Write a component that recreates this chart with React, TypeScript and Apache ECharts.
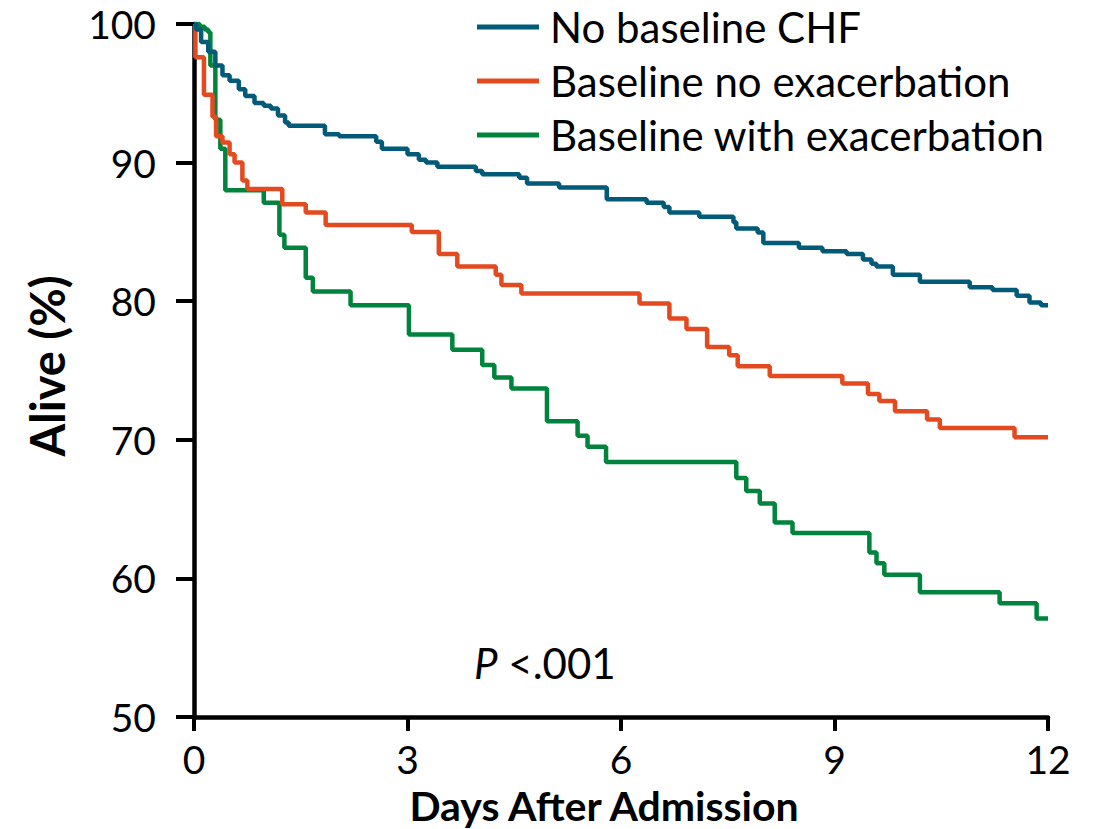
import React, { useEffect, useRef } from "react";
import * as echarts from "echarts";

const seriesNames = ["No baseline CHF", "Baseline no exacerbation", "Baseline with exacerbation"];
const seriesColors = ["#005A78", "#E34A1F", "#00843D"];

const xTicks = [0, 3, 6, 9, 12];
const yTicks = [50, 60, 70, 80, 90, 100];

// [day, % alive] step points (Kaplan-Meier)
const noBaselineChf: [number, number][] = [
  [0, 100], [0.03, 99.6], [0.1, 98.7], [0.2, 98.0], [0.3, 97.0], [0.4, 96.3], [0.5, 95.9],
  [0.63, 95.3], [0.72, 94.8], [0.85, 94.3], [0.98, 94.1], [1.08, 93.9], [1.18, 93.4],
  [1.28, 92.9], [1.33, 92.65], [1.84, 92.05], [2.04, 91.9], [2.56, 91.5], [2.64, 91.0],
  [3.0, 90.6], [3.16, 90.2], [3.26, 90.0], [3.42, 89.7], [3.96, 89.4], [4.05, 89.16],
  [4.57, 88.9], [4.68, 88.5], [5.13, 88.2], [5.8, 87.36], [6.36, 87.1], [6.6, 86.8],
  [6.68, 86.4], [7.1, 86.1], [7.58, 85.7], [7.62, 85.25], [7.92, 84.95], [8.0, 84.2],
  [8.5, 83.86], [8.83, 83.6], [9.17, 83.4], [9.4, 83.0], [9.52, 82.7], [9.59, 82.5],
  [9.82, 81.9], [10.2, 81.4], [10.9, 81.0], [11.22, 80.8], [11.56, 80.4], [11.74, 79.9],
  [11.9, 79.7], [12, 79.7],
];

const baselineNoExac: [number, number][] = [
  [0, 100], [0.02, 97.6], [0.14, 94.9], [0.26, 93.3], [0.31, 91.9], [0.4, 91.45], [0.5, 90.6],
  [0.57, 90.0], [0.68, 88.7], [0.75, 88.1], [1.24, 87.0], [1.57, 86.4], [1.85, 85.5],
  [3.06, 85.0], [3.44, 83.4], [3.7, 82.5], [4.24, 81.9], [4.32, 81.16], [4.6, 80.56],
  [6.26, 79.84], [6.68, 78.76], [6.92, 78.0], [7.21, 76.7], [7.52, 76.1], [7.64, 75.3],
  [8.09, 74.6], [9.11, 74.06], [9.47, 73.3], [9.63, 72.8], [9.85, 72.06], [10.3, 71.46],
  [10.48, 70.86], [11.53, 70.18], [12, 70.18],
];

const baselineWithExac: [number, number][] = [
  [0, 100], [0.08, 99.8], [0.15, 99.6], [0.2, 99.4], [0.23, 97.0], [0.3, 93.1], [0.37, 91.0],
  [0.44, 88.0], [0.98, 87.1], [1.2, 84.8], [1.27, 83.86], [1.57, 81.7], [1.67, 80.7],
  [2.2, 79.7], [3.02, 77.6], [3.63, 76.5], [4.05, 75.4], [4.22, 74.5], [4.46, 73.7],
  [4.96, 71.34], [5.39, 70.3], [5.53, 69.5], [5.79, 68.4], [7.62, 67.25], [7.76, 66.3],
  [7.95, 65.4], [8.16, 64.04], [8.41, 63.27], [9.49, 61.87], [9.59, 61.1], [9.7, 60.26],
  [10.2, 59.0], [11.32, 58.2], [11.84, 57.1], [12, 57.1],
];

const allData = [noBaselineChf, baselineNoExac, baselineWithExac];

const FONT = "Lato, 'Open Sans', sans-serif";

export default function App() {
  const ref = useRef<HTMLDivElement>(null);
  useEffect(() => {
    if (!ref.current) return;
    const chart = echarts.init(ref.current, undefined, { renderer: "svg" });
    chart.setOption({
      animation: false,
      backgroundColor: "#ffffff",
      textStyle: { fontFamily: FONT },
      grid: { left: 194, right: 51, top: 24, bottom: 112, outerBoundsMode: "none", containLabel: false },
      legend: {
        orient: "vertical",
        left: 472,
        top: 0,
        icon: "rect",
        itemWidth: 62,
        itemHeight: 5,
        itemGap: 10,
        data: seriesNames,
        textStyle: { fontSize: 42, color: "#000", fontFamily: FONT, lineHeight: 44, padding: [0, 0, 0, 6] },
      },
      xAxis: {
        type: "value",
        min: xTicks[0],
        max: xTicks[xTicks.length - 1],
        interval: 3,
        splitLine: { show: false },
        axisLine: { lineStyle: { color: "#000", width: 4.5 } },
        axisTick: { length: 14, lineStyle: { color: "#000", width: 4 } },
        axisLabel: { fontSize: 39, color: "#000", margin: 24, fontFamily: FONT, lineHeight: 36 },
      },
      yAxis: {
        type: "value",
        min: yTicks[0],
        max: yTicks[yTicks.length - 1],
        interval: 10,
        splitLine: { show: false },
        axisLine: { show: true, lineStyle: { color: "#000", width: 4.5 } },
        axisTick: { show: true, length: 18, lineStyle: { color: "#000", width: 4 } },
        axisLabel: { fontSize: 39, color: "#000", margin: 38, fontFamily: FONT },
      },
      series: seriesNames.map((name, i) => ({
        name,
        type: "line",
        step: "end",
        showSymbol: false,
        symbol: "none",
        color: seriesColors[i],
        lineStyle: { width: 4.5, color: seriesColors[i] },
        data: allData[i],
        z: 3 - i,
      })),
      graphic: [
        {
          type: "text",
          left: 474,
          top: 642,
          style: {
            text: "{i|P} <.001",
            font: `42px ${FONT}`,
            fill: "#000",
            rich: {
              i: { fontStyle: "italic", fontSize: 42, fontFamily: FONT },
            },
          },
        },
        {
          type: "text",
          x: 604,
          y: 805,
          style: {
            text: "Days After Admission",
            font: `bold 41px ${FONT}`,
            lineHeight: 38,
            fill: "#000",
            align: "center",
            verticalAlign: "middle",
          },
        },
        {
          type: "text",
          x: 47,
          y: 366,
          rotation: Math.PI / 2,
          style: {
            text: "Alive (%)",
            font: `bold 47px ${FONT}`,
            fill: "#000",
            align: "center",
            verticalAlign: "middle",
          },
        },
      ],
    });
    return () => chart.dispose();
  }, []);
  return (
    <div
      ref={ref}
      style={{ position: "fixed", left: 0, top: 0, width: 1099, height: 829, background: "#fff" }}
    />
  );
}
